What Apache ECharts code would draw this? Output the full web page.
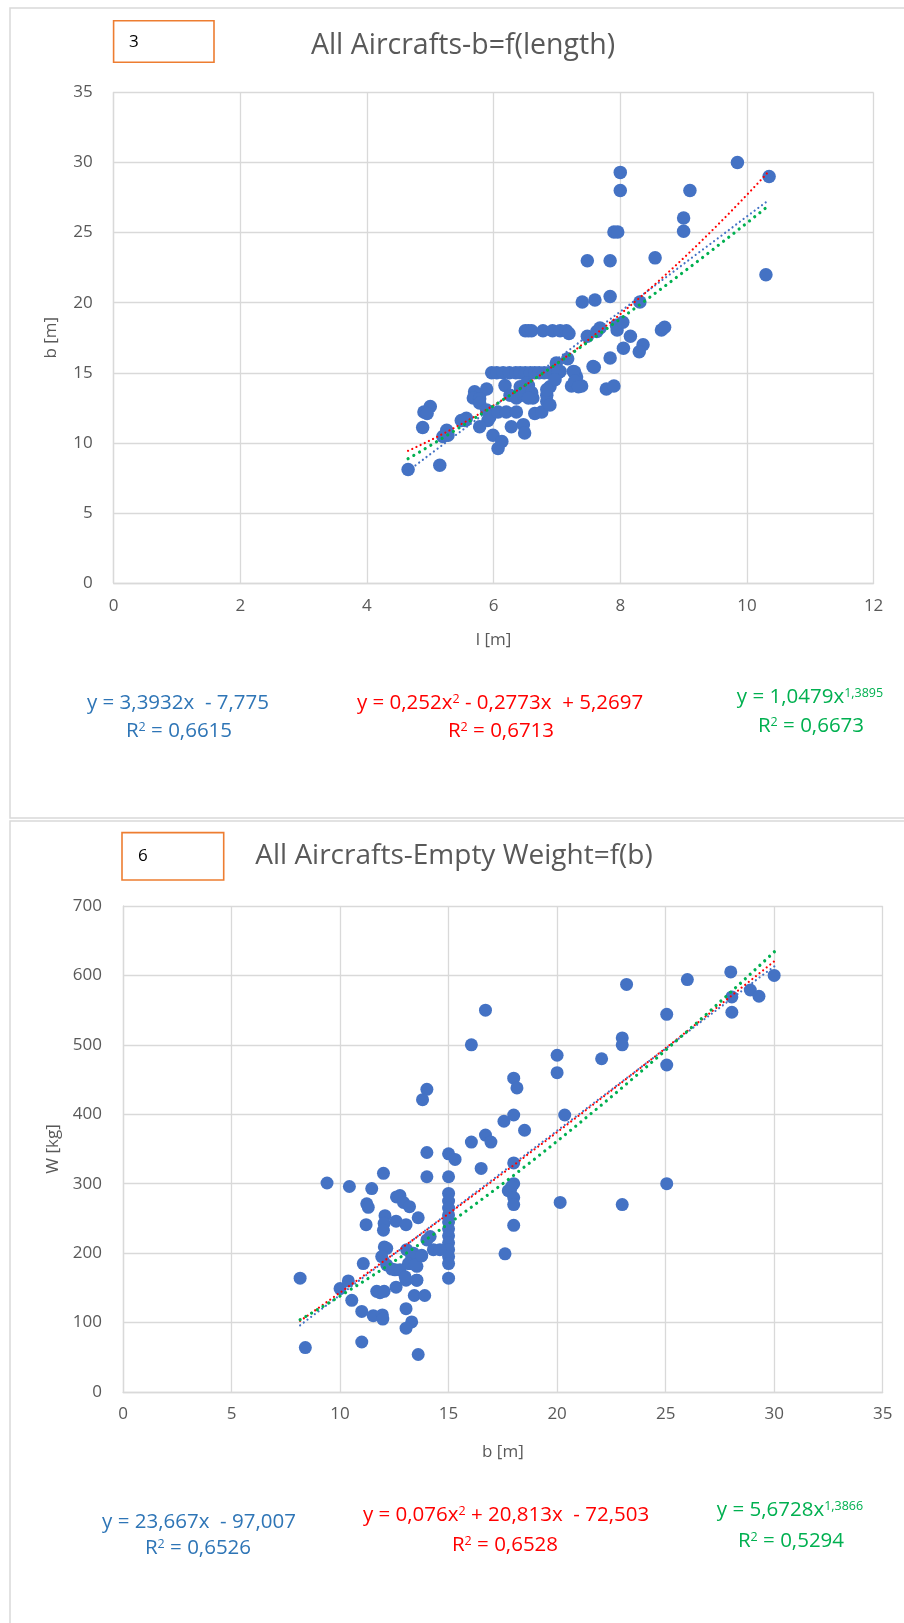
<!DOCTYPE html>
<html>
<head>
<meta charset="utf-8">
<title>All Aircrafts</title>
<script src="https://cdn.jsdelivr.net/npm/echarts@6/dist/echarts.min.js"></script>
<style>
  html, body { margin: 0; padding: 0; background: #ffffff; }
  #chart { width: 904px; height: 1623px; }
</style>
</head>
<body>
<div id="chart"></div>
<script>
// ---- Chart 3: wing span b versus length l ----
const lengthSpan = [
  [9.85, 30.0], [10.35, 29.0], [8.0, 29.3], [8.0, 28.0], [9.1, 28.0], [9.0, 26.05], [9.0, 25.1],
  [7.9, 25.05], [7.96, 25.05], [7.48, 23.0], [7.84, 23.0], [8.55, 23.2], [10.3, 22.0],
  [7.4, 20.05], [7.6, 20.2], [7.84, 20.45], [8.31, 20.05],
  [6.5, 18.0], [6.55, 18.0], [6.6, 18.0], [6.78, 18.0], [6.93, 18.0], [7.05, 18.0], [7.15, 18.0], [7.19, 17.8],
  [7.48, 17.6], [7.63, 17.95], [7.68, 18.2], [7.94, 18.4], [7.95, 18.05], [8.04, 18.6], [8.16, 17.6],
  [8.05, 16.75], [8.36, 17.0], [8.3, 16.5], [8.65, 18.05], [8.7, 18.25],
  [7.84, 16.05], [7.59, 15.4], [7.17, 16.0], [7.28, 15.05], [7.31, 14.7], [7.23, 14.05], [7.39, 14.05],
  [7.78, 13.85], [7.9, 14.05], [6.99, 15.7], [7.05, 15.1], [7.26, 15.1], [7.28, 14.4], [7.34, 14.0], [7.57, 15.45],
  [5.97, 15.0], [6.05, 15.0], [6.15, 15.0], [6.25, 15.0], [6.35, 15.0], [6.42, 15.0], [6.5, 15.0],
  [6.58, 15.0], [6.65, 15.0], [6.72, 15.0], [6.8, 15.0], [6.88, 15.0], [6.95, 15.0], [7.02, 15.0],
  [5.7, 13.65], [5.78, 13.4], [5.89, 13.85], [5.68, 13.2], [5.78, 13.15], [6.18, 14.1], [5.78, 12.85],
  [5.89, 12.35], [5.94, 11.85], [5.91, 11.6], [6.07, 12.2], [6.2, 12.2], [6.36, 12.2], [6.26, 13.4],
  [6.36, 13.2], [6.47, 13.4], [6.57, 13.3], [6.42, 14.0], [6.55, 14.1], [6.65, 12.1], [6.76, 12.2],
  [6.84, 12.95], [6.84, 13.4], [6.89, 14.0], [6.97, 14.5], [6.84, 13.8], [6.89, 12.7], [6.62, 13.2],
  [6.52, 14.25], [6.42, 13.65], [6.5, 13.5], [6.6, 13.6], [6.55, 13.2],
  [6.28, 11.15], [6.47, 11.3], [6.49, 10.7], [5.78, 11.15], [5.99, 10.55], [6.13, 10.1], [6.07, 9.6],
  [5.26, 10.9], [5.2, 10.45], [5.49, 11.6], [5.57, 11.75],
  [4.65, 8.1], [5.15, 8.4], [4.88, 11.1], [4.9, 12.2], [5.0, 12.6], [4.95, 12.1], [5.28, 10.55], [5.55, 11.6]
];
const lengthTicks = [0, 2, 4, 6, 8, 10, 12];
const spanTicks = [0, 5, 10, 15, 20, 25, 30, 35];
// Trend line coefficients as printed under the chart
const fit3Linear = [3.3932, -7.775];          // y = a x + b
const fit3Poly = [0.252, -0.2773, 5.2697];    // y = a x^2 + b x + c
const fit3Power = [1.0479, 1.3895];           // y = a x^b
const fit3Range = [4.65, 10.35];

// ---- Chart 6: empty weight W versus wing span b ----
const spanWeight = [
  [28.0, 605], [26.0, 594], [23.2, 587], [30.0, 600], [28.9, 579], [29.3, 570], [28.05, 569], [28.05, 547],
  [16.7, 550], [16.05, 500], [25.05, 544], [23.0, 510], [23.0, 500], [22.05, 480], [20.0, 485], [20.0, 460],
  [25.05, 471], [18.0, 452], [18.15, 438], [14.0, 436], [13.8, 421], [20.35, 399], [18.0, 399], [17.55, 390],
  [18.5, 377], [16.05, 360], [16.7, 370], [16.95, 360], [14.0, 345], [15.0, 343], [15.3, 335], [14.0, 310],
  [15.0, 310], [16.5, 322], [25.05, 300], [18.0, 330], [18.0, 300], [17.85, 291], [17.75, 290], [17.9, 296],
  [18.0, 280], [18.0, 270], [18.0, 240], [17.6, 199], [20.14, 273], [23.0, 270],
  [15.0, 286], [15.0, 275], [15.0, 265], [15.0, 255], [15.0, 245], [15.0, 235], [15.0, 225], [15.0, 215],
  [15.0, 205], [15.0, 195], [15.0, 185], [15.0, 164], [12.76, 283],
  [14.3, 205], [14.6, 205], [13.76, 197], [13.07, 205], [13.38, 200], [13.23, 185], [13.54, 181],
  [12.04, 209], [12.15, 207], [11.92, 195], [12.15, 183], [12.53, 176], [11.07, 185],
  [10.0, 149], [10.38, 160], [10.54, 132], [11.0, 116], [11.0, 72], [11.53, 110], [11.95, 111], [11.97, 105],
  [11.69, 145], [11.84, 143], [12.03, 145], [12.58, 151], [13.04, 161], [13.54, 161], [13.04, 120],
  [13.3, 101], [13.04, 92], [13.42, 139], [13.9, 139], [13.6, 54], [8.16, 164], [8.4, 64],
  [9.4, 301], [10.43, 296], [11.46, 293], [12.0, 315], [11.23, 271], [11.3, 266], [11.2, 241],
  [12.07, 254], [12.03, 243], [12.0, 233], [12.6, 281], [12.92, 273], [13.2, 267], [12.58, 246],
  [13.04, 241], [13.6, 251], [14.15, 224], [14.0, 219], [13.3, 195], [13.15, 185], [13.46, 183],
  [13.76, 196], [12.38, 177], [12.76, 176], [13.0, 166], [13.53, 161]
];
const weightSpanTicks = [0, 5, 10, 15, 20, 25, 30, 35];
const weightTicks = [0, 100, 200, 300, 400, 500, 600, 700];
const fit6Linear = [23.667, -97.007];
const fit6Poly = [0.076, 20.813, -72.503];
const fit6Power = [5.6728, 1.3866];
const fit6Range = [8.16, 30.05];

// Equation labels
const eq3 = {
  linear: ['y = 3,3932x  - 7,775', 'R{s|2} = 0,6615'],
  poly: ['y = 0,252x{s|2} - 0,2773x  + 5,2697', 'R{s|2} = 0,6713'],
  power: ['y = 1,0479x{s|1,3895}', 'R{s|2} = 0,6673']
};
const eq6 = {
  linear: ['y = 23,667x  - 97,007', 'R{s|2} = 0,6526'],
  poly: ['y = 0,076x{s|2} + 20,813x  - 72,503', 'R{s|2} = 0,6528'],
  power: ['y = 5,6728x{s|1,3866}', 'R{s|2} = 0,5294']
};

const BLUE = '#4472C4', RED = '#FF0000', GREEN = '#00B050';
const EQ_BLUE = '#2E75B6';
const FONT = "'Open Sans', 'Liberation Sans', sans-serif";
const TICK = '#595959';

// Sample a fitted curve over the data range
function curve(fn, range, steps) {
  const pts = [];
  for (let i = 0; i <= steps; i++) {
    const x = range[0] + (range[1] - range[0]) * i / steps;
    pts.push([x, fn(x)]);
  }
  return pts;
}
const lin = c => x => c[0] * x + c[1];
const quad = c => x => c[0] * x * x + c[1] * x + c[2];
const pow = c => x => c[0] * Math.pow(x, c[1]);

function trend(name, data, xi, color, width, gap) {
  return {
    name, type: 'line', xAxisIndex: xi, yAxisIndex: xi, data,
    showSymbol: false, symbol: 'none', silent: true, z: 3,
    lineStyle: { color, width, type: [0.01, gap], cap: 'round' }
  };
}

function valueAxis(gridIndex, ticks, extra) {
  return Object.assign({
    type: 'value', gridIndex,
    min: ticks[0], max: ticks[ticks.length - 1], interval: ticks[1] - ticks[0],
    axisLine: { show: true, lineStyle: { color: '#d9d9d9', width: 1.3 } },
    axisTick: { show: false },
    splitLine: { show: true, lineStyle: { color: '#d9d9d9', width: 1.3 } },
    axisLabel: { color: TICK, fontSize: 17, fontFamily: FONT },
    nameLocation: 'middle',
    nameTextStyle: { color: TICK, fontSize: 17, fontFamily: FONT }
  }, extra);
}

function eqText(x, y, text, color) {
  return {
    type: 'text', x, y, z: 10,
    style: {
      text, fill: color, fontSize: 20.5, fontFamily: FONT,
      align: 'center', verticalAlign: 'middle',
      rich: { s: { fontSize: 12.5, fill: color, verticalAlign: 'top', lineHeight: 15, fontFamily: FONT } }
    }
  };
}

const chart = echarts.init(document.getElementById('chart'), null, { renderer: 'canvas' });

chart.setOption({
  animation: false,
  backgroundColor: '#ffffff',
  grid: [
    { left: 113.6, top: 92.5, width: 760, height: 490.5, containLabel: false, outerBoundsMode: 'none' },
    { left: 123, top: 906, width: 759.7, height: 486, containLabel: false, outerBoundsMode: 'none' }
  ],
  xAxis: [
    valueAxis(0, lengthTicks, { name: 'l [m]', nameGap: 49, axisLabel: { color: TICK, fontSize: 17, fontFamily: FONT, margin: 15 } }),
    valueAxis(1, weightSpanTicks, { name: 'b [m]', nameGap: 52, axisLabel: { color: TICK, fontSize: 17, fontFamily: FONT, margin: 14 } })
  ],
  yAxis: [
    valueAxis(0, spanTicks, { name: 'b [m]', nameGap: 54, axisLabel: { color: TICK, fontSize: 17, fontFamily: FONT, margin: 21 } }),
    valueAxis(1, weightTicks, { name: 'W [kg]', nameGap: 48, axisLabel: { color: TICK, fontSize: 17, fontFamily: FONT, margin: 21 } })
  ],
  series: [
    {
      type: 'scatter', xAxisIndex: 0, yAxisIndex: 0, data: lengthSpan,
      symbol: 'circle', symbolSize: 13.5, itemStyle: { color: BLUE, opacity: 1 }, z: 2
    },
    trend('lin3', curve(lin(fit3Linear), fit3Range, 80), 0, BLUE, 2.2, 4.6),
    trend('poly3', curve(quad(fit3Poly), fit3Range, 80), 0, RED, 2.2, 4.6),
    trend('pow3', curve(pow(fit3Power), fit3Range, 80), 0, GREEN, 3.2, 6.6),
    {
      type: 'scatter', xAxisIndex: 1, yAxisIndex: 1, data: spanWeight,
      symbol: 'circle', symbolSize: 13, itemStyle: { color: BLUE, opacity: 1 }, z: 2
    },
    trend('lin6', curve(lin(fit6Linear), fit6Range, 80), 1, BLUE, 2.2, 4.6),
    trend('poly6', curve(quad(fit6Poly), fit6Range, 80), 1, RED, 2.2, 4.6),
    trend('pow6', curve(pow(fit6Power), fit6Range, 80), 1, GREEN, 3.2, 6.6)
  ],
  graphic: [
    // panel frames
    { type: 'rect', z: -20, shape: { x: 10, y: 8, width: 1000, height: 810 },
      style: { fill: '#ffffff', stroke: '#d9d9d9', lineWidth: 1.5 }, silent: true },
    { type: 'rect', z: -20, shape: { x: 10, y: 821, width: 1000, height: 900 },
      style: { fill: '#ffffff', stroke: '#d9d9d9', lineWidth: 1.5 }, silent: true },
    // numbered boxes
    { type: 'rect', z: 5, shape: { x: 113.6, y: 20.7, width: 100.4, height: 41.6 },
      style: { fill: '#ffffff', stroke: '#ED7D31', lineWidth: 1.6 } },
    { type: 'text', z: 6, x: 129, y: 42, style: { text: '3', fill: '#000000', fontSize: 17, fontFamily: FONT, verticalAlign: 'middle' } },
    { type: 'rect', z: 5, shape: { x: 122, y: 832.6, width: 101.7, height: 47.4 },
      style: { fill: '#ffffff', stroke: '#ED7D31', lineWidth: 1.6 } },
    { type: 'text', z: 6, x: 138, y: 856, style: { text: '6', fill: '#000000', fontSize: 17, fontFamily: FONT, verticalAlign: 'middle' } },
    // titles
    { type: 'text', z: 6, x: 463, y: 46, style: { text: 'All Aircrafts-b=f(length)', fill: '#595959', fontSize: 28.5, fontFamily: FONT, align: 'center', verticalAlign: 'middle' } },
    { type: 'text', z: 6, x: 454, y: 856, style: { text: 'All Aircrafts-Empty Weight=f(b)', fill: '#595959', fontSize: 28, fontFamily: FONT, align: 'center', verticalAlign: 'middle' } },
    // trend equations, chart 3
    eqText(178, 703, eq3.linear[0], EQ_BLUE),
    eqText(179, 731, eq3.linear[1], EQ_BLUE),
    eqText(500, 703, eq3.poly[0], RED),
    eqText(501, 731, eq3.poly[1], RED),
    eqText(810, 697, eq3.power[0], GREEN),
    eqText(811, 726, eq3.power[1], GREEN),
    // trend equations, chart 6
    eqText(199, 1522, eq6.linear[0], EQ_BLUE),
    eqText(198, 1548, eq6.linear[1], EQ_BLUE),
    eqText(506, 1515, eq6.poly[0], RED),
    eqText(505, 1545, eq6.poly[1], RED),
    eqText(790, 1510, eq6.power[0], GREEN),
    eqText(791, 1541, eq6.power[1], GREEN)
  ]
});
</script>
</body>
</html>
